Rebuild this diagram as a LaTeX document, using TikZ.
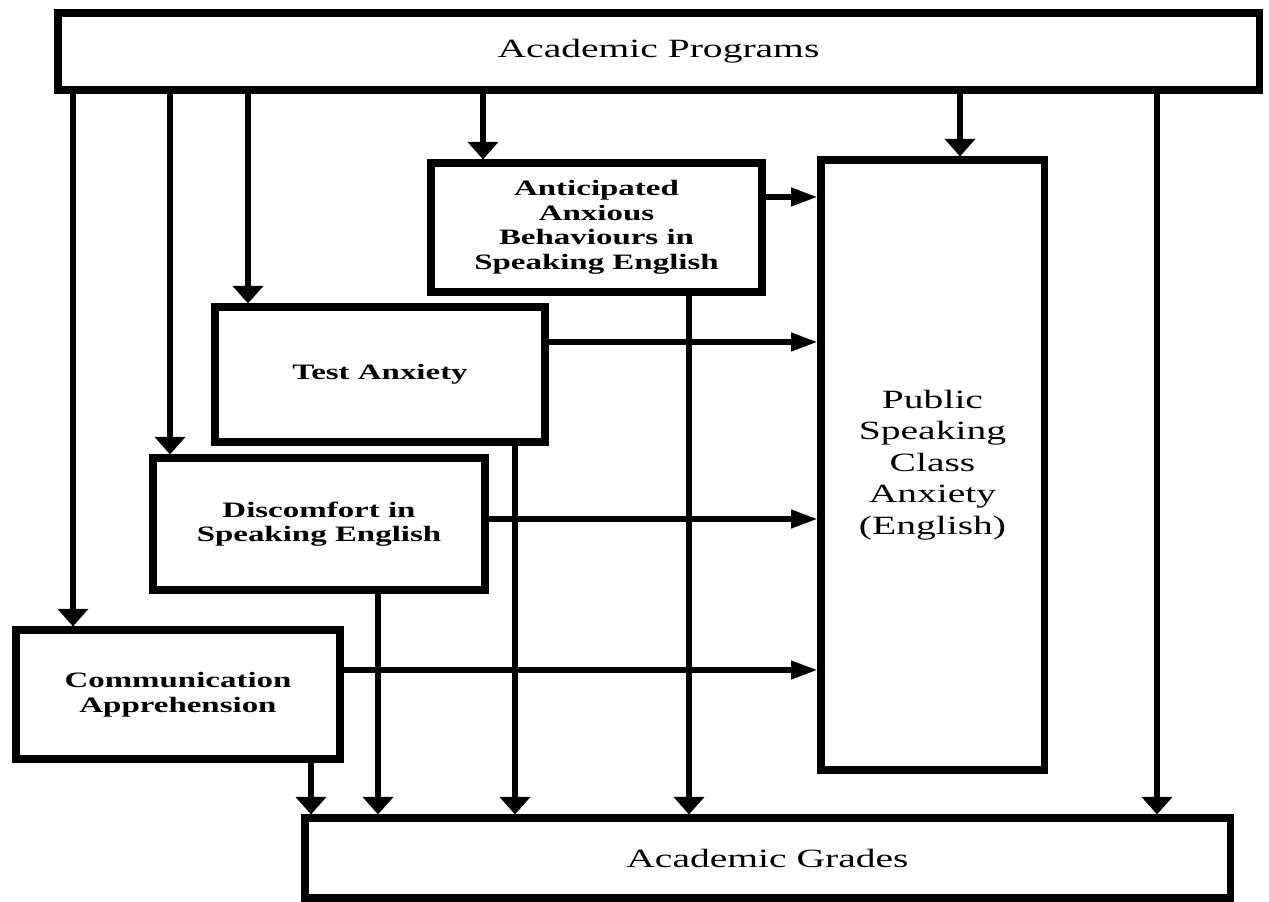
\documentclass[tikz,border=0pt]{standalone}
\usepackage{fontspec}
\setmainfont{Liberation Serif}[FakeStretch=1.5]
\usetikzlibrary{arrows.meta}
\begin{document}
\begin{tikzpicture}[x=0.2mm, y=-0.2mm,
  mainbox/.style={draw, line width=4pt, inner sep=0pt, align=center,
    font=\fontsize{15}{18}\selectfont},
  factorbox/.style={mainbox, font=\fontsize{12.5}{14}\selectfont\bfseries},
  varr/.style={line width=3pt, -{Triangle[width=17pt,length=10pt]}},
  harr/.style={line width=3pt, -{Triangle[width=10pt,length=15pt]}}]
\useasboundingbox (0,0) rectangle (1269,902);
% boxes
\node[mainbox, minimum width=240.2mm, minimum height=15.4mm] (prog) at (658.5,51.5) {Academic Programs};
\node[factorbox, minimum width=66.2mm, minimum height=25.8mm] (anti) at (596.5,227.5)
  {Anticipated\\Anxious\\Behaviours in\\Speaking English};
\node[mainbox, minimum width=44.6mm, minimum height=122mm] (psca) at (932.5,465)
  {Public\\Speaking\\Class\\Anxiety\\(English)};
\node[factorbox, minimum width=66mm, minimum height=27mm] (test) at (380,374.5) {Test Anxiety};
\node[factorbox, minimum width=66.4mm, minimum height=26.4mm] (disc) at (319,524)
  {Discomfort in\\Speaking English};
\node[factorbox, minimum width=64.8mm, minimum height=25.8mm] (comm) at (178,694.5)
  {Communication\\Apprehension};
\node[mainbox, minimum width=185mm, minimum height=16mm] (grades) at (767.5,858) {Academic Grades};
% columns and rows of the arrows
\coordinate (xcomm) at (73,0);
\coordinate (xdisc) at (170,0);
\coordinate (xtest) at (248,0);
\coordinate (xanti) at (483,0);
\coordinate (xpsca) at (960,0);
\coordinate (xgrad) at (1157,0);
\coordinate (dcomm) at (311,0);
\coordinate (ddisc) at (378,0);
\coordinate (dtest) at (515,0);
\coordinate (danti) at (689,0);
\coordinate (yanti) at (0,197);
\coordinate (ytest) at (0,342);
\coordinate (ydisc) at (0,519);
\coordinate (ycomm) at (0,670);
% from the programs
\draw[varr] (prog.south -| xcomm) -- (comm.north -| xcomm);
\draw[varr] (prog.south -| xdisc) -- (disc.north -| xdisc);
\draw[varr] (prog.south -| xtest) -- (test.north -| xtest);
\draw[varr] (prog.south -| xanti) -- (anti.north -| xanti);
\draw[varr] (prog.south -| xpsca) -- (psca.north -| xpsca);
\draw[varr] (prog.south -| xgrad) -- (grades.north -| xgrad);
% to public speaking class anxiety
\draw[harr] (anti.east |- yanti) -- (psca.west |- yanti);
\draw[harr] (test.east |- ytest) -- (psca.west |- ytest);
\draw[harr] (disc.east |- ydisc) -- (psca.west |- ydisc);
\draw[harr] (comm.east |- ycomm) -- (psca.west |- ycomm);
% to the grades
\draw[varr] (comm.south -| dcomm) -- (grades.north -| dcomm);
\draw[varr] (disc.south -| ddisc) -- (grades.north -| ddisc);
\draw[varr] (test.south -| dtest) -- (grades.north -| dtest);
\draw[varr] (anti.south -| danti) -- (grades.north -| danti);
\end{tikzpicture}
\end{document}
